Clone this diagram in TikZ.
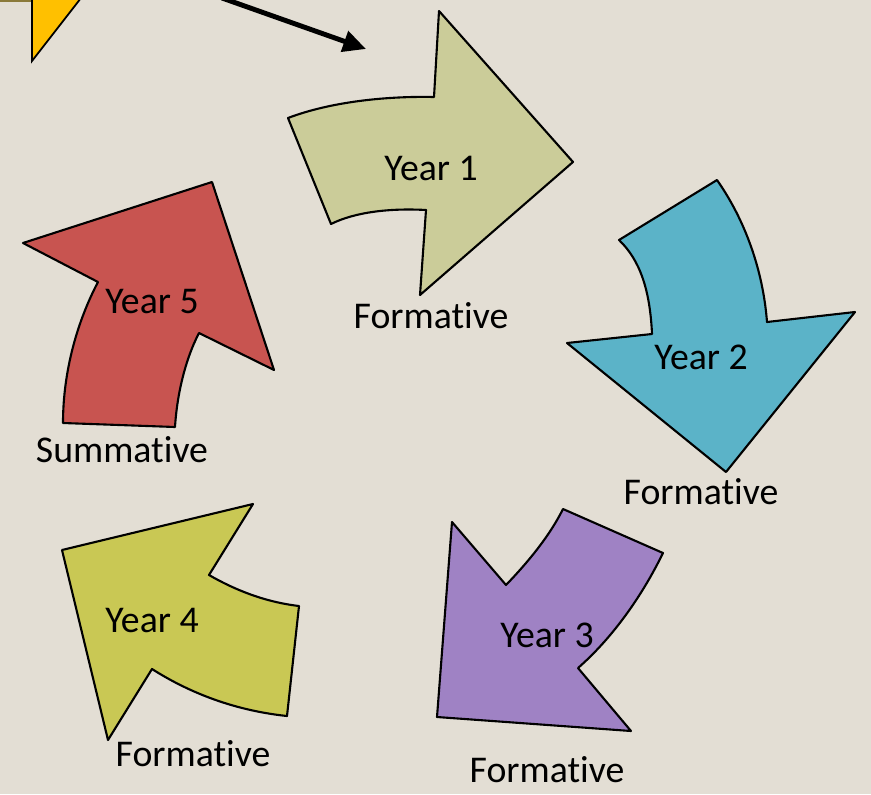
\documentclass[tikz,border=0pt]{standalone}
\usepackage{fontspec}
\setmainfont{Carlito}[Ligatures=NoCommon]
\usetikzlibrary{arrows.meta}
\usetikzlibrary{positioning}
\definecolor{bgcol}{HTML}{E3DED4}
\definecolor{yearone}{HTML}{CBCC99}
\definecolor{yeartwo}{HTML}{5BB3C8}
\definecolor{yearthree}{HTML}{9F82C4}
\definecolor{yearfour}{HTML}{C9C854}
\definecolor{yearfive}{HTML}{C85450}
\definecolor{corner}{HTML}{FFC000}
\definecolor{cornerbar}{HTML}{8B7A3A}

\begin{document}
\begin{tikzpicture}[x=0.02cm,y=-0.02cm,
        bigarrow/.style={draw=black,line width=1.2pt,line join=round},
        yearlabel/.style={font=\fontsize{21.5}{25}\selectfont,inner sep=0pt},
        kindlabel/.style={font=\fontsize{21.5}{25}\selectfont,inner sep=0pt}]
        \fill[bgcol] (0,0) rectangle (871,794);
        \useasboundingbox (0,0) rectangle (871,794);
        % corner piece
        \fill[cornerbar] (0,0) rectangle (33,2.5);
        \filldraw[fill=corner,draw=black,line width=1pt] (32,-2) -- (32,61) -- (81,-2);
        \coordinate (start) at (222,-2);
        \coordinate (stop) at (366,49);
        \draw[line width=2.8pt,-{Triangle[length=13pt,width=12pt]}] (start) -- (stop);
        % Year 1
        \draw[bigarrow,fill=yearone] (288,118) .. controls (330,102) and (385,96) .. (434,97)
            -- (439,11) -- (573,162) -- (420,295) -- (426,210)
            .. controls (390,208) and (355,212) .. (331,224) -- cycle;
        % Year 2
        \draw[bigarrow,fill=yeartwo] (619,240) -- (717,180)
            .. controls (745,220) and (763,270) .. (767,322)
            -- (855,312) -- (726,472) -- (567,343) -- (652,334)
            .. controls (650,290) and (640,260) .. cycle;
        % Year 3
        \draw[bigarrow,fill=yearthree] (452,522) -- (506,585)
            .. controls (530,560) and (550,535) .. (563,509)
            -- (663,553) .. controls (640,600) and (610,640) .. (578,668)
            -- (631,731) -- (437,717) -- cycle;
        % Year 4
        \draw[bigarrow,fill=yearfour] (62,550) -- (253,504) -- (209,575)
            .. controls (235,590) and (265,602) .. (299,606)
            -- (287,716) .. controls (230,710) and (185,690) .. (152,669)
            -- (108,740) -- cycle;
        % Year 5
        \draw[bigarrow,fill=yearfive] (23,243) -- (212,182) -- (274,370) -- (199,333)
            .. controls (185,360) and (177,395) .. (175,427)
            -- (63,423) .. controls (63,370) and (78,320) .. (98,282) -- cycle;
        % labels
        \node[yearlabel] (y1) at (431,168) {Year 1};
        \node[yearlabel] (y2) at (701,357) {Year 2};
        \node[yearlabel] (y3) at (547,635) {Year 3};
        \node[yearlabel] (y4) at (152,620) {Year 4};
        \node[yearlabel] (y5) at (152,302) {Year 5};
        \node[kindlabel] (k1) at (431,316) {Formative};
        \node[kindlabel] (k2) at (701,492) {Formative};
        \node[kindlabel] (k3) at (547,770) {Formative};
        \node[kindlabel] (k4) at (193,754) {Formative};
        \node[kindlabel] (k5) at (122,450) {Summative};
\end{tikzpicture}
\end{document}
